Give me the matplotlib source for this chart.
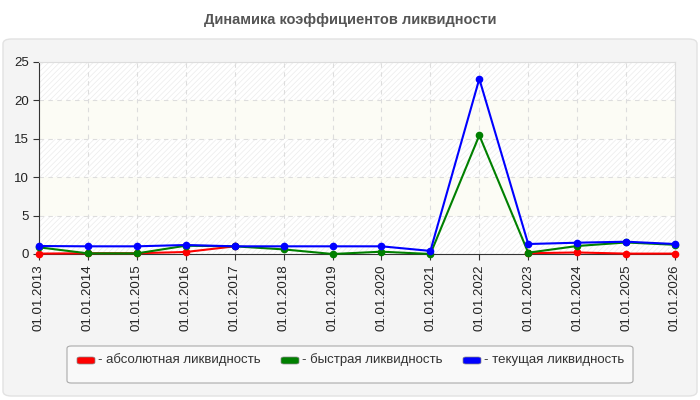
import matplotlib
matplotlib.use('Agg')
import matplotlib.pyplot as plt
from matplotlib.patches import FancyBboxPatch
import numpy as np

plt.rcParams['font.family'] = ['Liberation Sans', 'DejaVu Sans']
plt.rcParams['hatch.linewidth'] = 0.5

# data
dates = ['01.01.2013', '01.01.2014', '01.01.2015', '01.01.2016', '01.01.2017',
         '01.01.2018', '01.01.2019', '01.01.2020', '01.01.2021', '01.01.2022',
         '01.01.2023', '01.01.2024', '01.01.2025', '01.01.2026']
absolute = [0.05, 0.1, 0.1, 0.26, 1.0, np.nan, np.nan, np.nan, np.nan, np.nan,
            0.1, 0.2, 0.05, 0.05]
quick = [0.87, 0.08, 0.08, 1.08, 1.0, 0.6, 0.0, 0.3, 0.0, 15.45,
         0.17, 1.04, 1.5, 1.2]
current = [1.04, 1.0, 1.0, 1.17, 1.0, 1.0, 1.0, 1.0, 0.4, 22.8,
           1.3, 1.47, 1.6, 1.3]
series_names = ['- абсолютная ликвидность', '- быстрая ликвидность', '- текущая ликвидность']
colors = ['#ff0000', '#008000', '#0000ff']
yticks = [0, 5, 10, 15, 20, 25]

fig = plt.figure(figsize=(7, 4), dpi=100)
fig.patch.set_facecolor('white')

# outer panel
panel = FancyBboxPatch((3 / 700, 4 / 400), 694 / 700, 357 / 400,
                       boxstyle='round,pad=0,rounding_size=0.012',
                       transform=fig.transFigure, facecolor='#f4f4f4',
                       edgecolor='#e2e2e2', linewidth=1, zorder=-5)
fig.patches.append(panel)

fig.text(0.5, 1 - 20 / 400, 'Динамика коэффициентов ликвидности', ha='center', va='center',
         fontsize=10.5, fontweight='bold', color='#555555')

ax = fig.add_axes([39 / 700, 146 / 400, 636 / 700, 192 / 400])
ax.set_zorder(1)
ax.set_facecolor('white')
x = np.arange(len(dates))

# alternating bands
for i in range(len(yticks) - 1):
    if i % 2 == 0:
        ax.axhspan(yticks[i], yticks[i + 1], facecolor='white', edgecolor='#ebebeb',
                   hatch='//////', linewidth=0, zorder=0)
    else:
        ax.axhspan(yticks[i], yticks[i + 1], facecolor='#fcfcf5', linewidth=0, zorder=0)

for vals, c in zip([absolute, quick, current], colors):
    ax.plot(x, vals, color=c, linewidth=1.5, marker='o', markersize=4.5, zorder=3,
            clip_on=False)

ax.set_xlim(0, len(dates) - 1)
ax.set_ylim(0, 25)
ax.set_yticks(yticks)
ax.set_xticks(x)
ax.set_xticklabels(dates, rotation=90, fontsize=9.5, color='#222222')
ax.tick_params(axis='y', labelsize=9.5, labelcolor='#222222', length=4, color='#333333')
ax.tick_params(axis='x', length=4, color='#333333')
ax.grid(True, linestyle=(0, (4, 4)), color='#dddddd', linewidth=0.8)
ax.set_axisbelow(True)
for s in ['top', 'right']:
    ax.spines[s].set_color('#dddddd')
for s in ['left', 'bottom']:
    ax.spines[s].set_color('#333333')

# legend
leg = FancyBboxPatch((67 / 700, 1 - 383 / 400), 566 / 700, 37 / 400,
                     boxstyle='round,pad=0,rounding_size=0.006',
                     transform=fig.transFigure, facecolor='#f9f9f9',
                     edgecolor='#aaaaaa', linewidth=0.8, zorder=1)
fig.patches.append(leg)
starts = [77, 281, 463]
for sx, name, c in zip(starts, series_names, colors):
    h = FancyBboxPatch((sx / 700, 1 - 364 / 400), 18 / 700, 7 / 400,
                       boxstyle='round,pad=0,rounding_size=0.004',
                       transform=fig.transFigure, facecolor=c,
                       edgecolor='#888888', linewidth=0.5, zorder=2)
    fig.patches.append(h)
    fig.text((sx + 21) / 700, 1 - 360 / 400, name, ha='left', va='center',
             fontsize=9.5, color='#333333')

fig.savefig('out.png', dpi=100)
